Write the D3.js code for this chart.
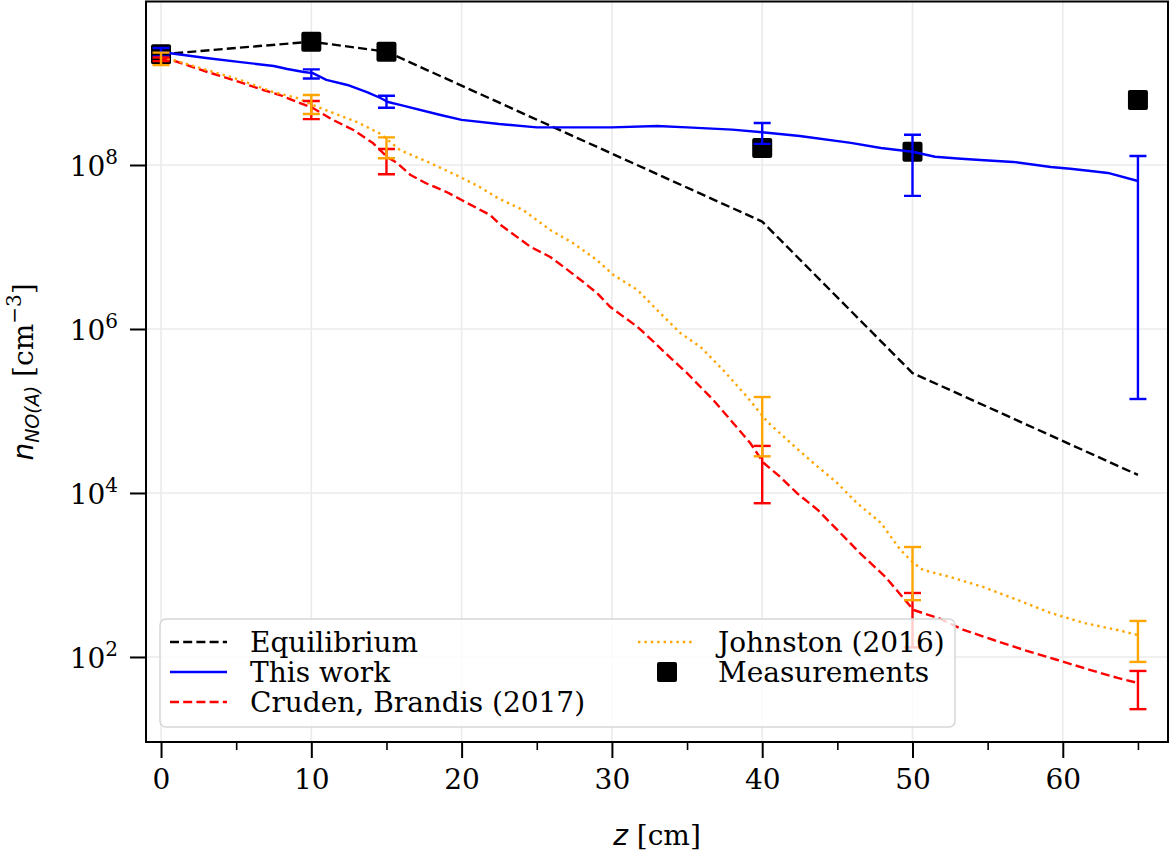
<!DOCTYPE html>
<html><head><meta charset="utf-8">
<script src="https://cdn.jsdelivr.net/npm/d3@7"></script>
<style>body{margin:0;background:#fff} svg{display:block} text{font-family:"DejaVu Serif",serif;fill:#000}</style>
</head><body><svg id="c" width="1169" height="856"></svg>
<script>
// ---------- data ----------
const measZ = [0, 10, 15, 40, 50, 65];
const measN = [2.24e9, 3.19e9, 2.41e9, 1.61e8, 1.45e8, 6.2e8];

const eqZ = [0, 10, 15, 40, 50, 65];
const eqN = [2.24e9, 3.19e9, 2.41e9, 2.04e7, 2.9e5, 1.66e4];

const thisZ = [0, 3, 5.3, 7.5, 8.4, 9.5, 10.1, 11, 12.4, 13.7, 14.6, 15.1, 15.9, 18.6, 20, 22.5, 25, 30, 33, 35, 38, 40, 42.5, 45.9, 47.9, 50, 51.5, 53, 54.5, 56.7, 59.2, 60.5, 62, 63, 65];
const thisN = [2.39e9, 2.02e9, 1.80e9, 1.61e9, 1.48e9, 1.36e9, 1.32e9, 1.09e9, 9.46e8, 7.76e8, 6.56e8, 5.86e8, 5.40e8, 4.07e8, 3.55e8, 3.16e8, 2.88e8, 2.88e8, 2.99e8, 2.88e8, 2.7e8, 2.51e8, 2.26e8, 1.86e8, 1.61e8, 1.45e8, 1.26e8, 1.2e8, 1.15e8, 1.09e8, 9.46e7, 9.0e7, 8.4e7, 8.0e7, 6.38e7];

const crudenZ = [0, 0.7, 3.1, 4.8, 6.8, 7.9, 9.25, 10.1, 11.45, 12.8, 14.1, 15.05, 15.7, 16.6, 17.6, 19, 20, 21, 21.9, 22.6, 23.7, 24.6, 25.9, 26.8, 28.1, 29, 29.9, 30.8, 31.7, 32.8, 33.9, 35, 35.9, 36.75, 37.9, 39.2, 40.1, 41.2, 42.3, 43.7, 45, 46.5, 48.2, 50.07, 51.7, 53.4, 55.4, 57.4, 59.65, 61.85, 63.65, 65];
const crudenN = [2.02e9, 1.91e9, 1.36e9, 1.09e9, 8.22e8, 7.14e8, 5.70e8, 4.95e8, 3.54e8, 2.67e8, 1.85e8, 1.25e8, 1.06e8, 7.55e7, 6.03e7, 4.68e7, 3.74e7, 2.99e7, 2.45e7, 1.85e7, 1.32e7, 1.0e7, 7.55e6, 5.70e6, 3.74e6, 2.75e6, 1.85e6, 1.40e6, 1.06e6, 6.93e5, 4.43e5, 2.90e5, 1.96e5, 1.36e5, 7.76e4, 4.07e4, 2.32e4, 1.57e4, 1.0e4, 6.21e3, 3.54e3, 1.85e3, 946, 374, 299, 214, 161, 122, 91.8, 69.2, 55.5, 48.2];

const johnZ = [0, 0.8, 3.06, 5.26, 7.46, 9.05, 10.1, 11.45, 13.05, 14.6, 15.9, 17.9, 19.9, 21.2, 22.4, 24.1, 25.9, 27.4, 29, 30.1, 31.7, 33.2, 34.55, 35.9, 37.4, 39, 40.35, 41.9, 43.4, 45, 46.3, 47.9, 49.2, 50.07, 50.7, 52.5, 54.7, 57, 59.2, 61.4, 63.65, 65];
const johnN = [2.07e9, 1.91e9, 1.44e9, 1.09e9, 7.76e8, 6.56e8, 5.40e8, 4.31e8, 3.34e8, 2.4e8, 1.52e8, 1.06e8, 7.14e7, 5.40e7, 3.96e7, 2.82e7, 1.61e7, 1.12e7, 6.93e6, 4.56e6, 2.99e6, 1.57e6, 8.93e5, 6.03e5, 3.16e5, 1.48e5, 7.35e4, 4.07e4, 2.32e4, 1.32e4, 7.55e3, 4.31e3, 2.02e3, 1.40e3, 1.15e3, 946, 714, 495, 344, 260, 213, 185];

const errZ = [0, 10, 15, 40, 50, 65];
const thisErrN = [2.39e9, 1.3e9, 6.0e8, 2.53e8, 1.38e8, 6.45e7];
const thisErrE = [0.28e9, 0.165e9, 1.0e8, 0.72e8, 0.96e8, 6.436e7];
const crudenErrN = [1.95e9, 4.83e8, 1.17e8, 2.25e4, 367, 45.3];
const crudenErrE = [0.1e9, 1.2e8, 0.4e8, 1.5e4, 236, 22.2];
const johnErrN = [2.0e9, 5.67e8, 1.69e8, 8.8e4, 1343, 181];
const johnErrE = [0.35e9, 1.48e8, 0.48e8, 6.0e4, 850, 94];

const xTicks = [0, 10, 20, 30, 40, 50, 60];
const xMinorTicks = [5, 15, 25, 35, 45, 55, 65];
const yTickExps = [2, 4, 6, 8];

// ---------- chart ----------
const FS = 28;
const svg = d3.select('#c');
const L = 146, R = 1168, T = 1.5, B = 742;
const x = d3.scaleLinear().domain([-1, 67]).range([L, R]);
const y = d3.scaleLog().domain([Math.pow(10, 0.963), Math.pow(10, 9.994)]).range([B, T]);

svg.append('defs').append('clipPath').attr('id', 'clip')
  .append('rect').attr('x', L).attr('y', T).attr('width', R - L).attr('height', B - T);

// grid
const grid = svg.append('g');
grid.selectAll('.gx').data(xTicks).join('line')
  .attr('x1', d => x(d)).attr('x2', d => x(d)).attr('y1', T).attr('y2', B)
  .attr('stroke', '#ebebeb').attr('stroke-width', 1.6);
grid.selectAll('.gy').data(yTickExps).join('line')
  .attr('y1', d => y(Math.pow(10, d))).attr('y2', d => y(Math.pow(10, d))).attr('x1', L).attr('x2', R)
  .attr('stroke', '#ebebeb').attr('stroke-width', 1.6);

const plot = svg.append('g').attr('clip-path', 'url(#clip)');

// measurements (squares)
const sq = 20;
plot.selectAll('.meas').data(measZ.map((z, i) => [z, measN[i]])).join('rect')
  .attr('x', d => x(d[0]) - sq / 2).attr('y', d => y(d[1]) - sq / 2)
  .attr('width', sq).attr('height', sq).attr('rx', 2).attr('fill', '#000');

const line = d3.line().x(d => x(d[0])).y(d => y(d[1]));
const LW = 2.4;
function drawLine(zs, ns, color, dash) {
  plot.append('path').datum(zs.map((z, i) => [z, ns[i]]))
    .attr('d', line).attr('fill', 'none').attr('stroke', color).attr('stroke-width', LW)
    .attr('stroke-dasharray', dash).attr('stroke-linejoin', 'round');
}
drawLine(eqZ, eqN, '#000', '9,4.2');
drawLine(thisZ, thisN, '#0000ff', null);
drawLine(crudenZ, crudenN, '#ff0000', '9,4.2');
drawLine(johnZ, johnN, '#ffa500', '2.4,4');

function drawErr(ns, es, color) {
  const g = plot.append('g').attr('stroke', color).attr('stroke-width', LW).attr('fill', 'none');
  errZ.forEach((z, i) => {
    const hi = y(ns[i] + es[i]), lo = y(ns[i] - es[i]), cx = x(z);
    g.append('line').attr('x1', cx).attr('x2', cx).attr('y1', hi).attr('y2', lo);
    g.append('line').attr('x1', cx - 8.5).attr('x2', cx + 8.5).attr('y1', hi).attr('y2', hi);
    g.append('line').attr('x1', cx - 8.5).attr('x2', cx + 8.5).attr('y1', lo).attr('y2', lo);
  });
}
drawErr(thisErrN, thisErrE, '#0000ff');
drawErr(crudenErrN, crudenErrE, '#ff0000');
drawErr(johnErrN, johnErrE, '#ffa500');

// axes
const gx = svg.append('g').attr('transform', `translate(0,${B})`)
  .call(d3.axisBottom(x).tickValues(xTicks).tickSize(16).tickPadding(11).tickFormat(d3.format('d')));
gx.select('.domain').remove();
gx.selectAll('line').attr('stroke', '#000').attr('stroke-width', 2);
gx.selectAll('text').attr('font-size', FS).attr('font-family', 'DejaVu Serif').attr('fill', '#000');
const gxm = svg.append('g').attr('transform', `translate(0,${B})`)
  .call(d3.axisBottom(x).tickValues(xMinorTicks).tickSize(8).tickFormat(() => ''));
gxm.select('.domain').remove();
gxm.selectAll('line').attr('stroke', '#000').attr('stroke-width', 1.6);

const gy = svg.append('g').attr('transform', `translate(${L},0)`)
  .call(d3.axisLeft(y).tickValues(yTickExps.map(e => Math.pow(10, e))).tickSize(16).tickPadding(12).tickFormat(() => ''));
gy.select('.domain').remove();
gy.selectAll('line').attr('stroke', '#000').attr('stroke-width', 2);
gy.selectAll('.tick text').each(function (d) {
  const t = d3.select(this).attr('font-size', FS).attr('dy', null).attr('y', 11).attr('fill', '#000');
  t.append('tspan').text('10');
  t.append('tspan').attr('font-size', 20).attr('dy', -12).text(String(Math.round(Math.log10(d))));
});

// frame
svg.append('rect').attr('x', L).attr('y', T).attr('width', R - L).attr('height', B - T)
  .attr('fill', 'none').attr('stroke', '#000').attr('stroke-width', 2);

// legend
const lg = svg.append('g');
lg.append('rect').attr('x', 160).attr('y', 619).attr('width', 795).attr('height', 108).attr('rx', 6)
  .attr('fill', '#fff').attr('fill-opacity', 0.8).attr('stroke', '#d6d6d6').attr('stroke-width', 1.5);
const legItems = [
  {label: 'Equilibrium', color: '#000', dash: '9,4.2', hx: 170, ty: 652},
  {label: 'This work', color: '#0000ff', dash: null, hx: 170, ty: 682},
  {label: 'Cruden, Brandis (2017)', color: '#ff0000', dash: '9,4.2', hx: 170, ty: 712},
  {label: 'Johnston (2016)', color: '#ffa500', dash: '2.4,4', hx: 638, ty: 652},
  {label: 'Measurements', color: null, dash: null, hx: 638, ty: 682, marker: true}
];
legItems.forEach(it => {
  const cy = it.ty - 10;
  if (it.marker) {
    lg.append('rect').attr('x', it.hx + 29 - sq / 2).attr('y', cy - sq / 2).attr('width', sq).attr('height', sq)
      .attr('rx', 2).attr('fill', '#000');
  } else {
    lg.append('line').attr('x1', it.hx).attr('x2', it.hx + 57).attr('y1', cy).attr('y2', cy)
      .attr('stroke', it.color).attr('stroke-width', LW).attr('stroke-dasharray', it.dash);
  }
  lg.append('text').attr('x', it.hx + 80).attr('y', it.ty).attr('font-size', FS).text(it.label);
});

// axis labels
const xl = svg.append('text').attr('x', 657).attr('y', 845).attr('text-anchor', 'middle').attr('font-size', FS);
xl.append('tspan').attr('font-family', 'DejaVu Sans').attr('font-style', 'italic').text('z');
xl.append('tspan').text(' [cm]');

const yl = svg.append('text').attr('transform', 'translate(33,372) rotate(-90)').attr('text-anchor', 'middle').attr('font-size', FS);
yl.append('tspan').attr('font-family', 'DejaVu Sans').attr('font-style', 'italic').text('n');
yl.append('tspan').attr('font-family', 'DejaVu Sans').attr('font-style', 'italic').attr('font-size', 19).attr('dy', 6).text('NO(A)');
yl.append('tspan').attr('dy', -6).text(' [cm');
yl.append('tspan').attr('font-size', 20).attr('dy', -12).text('\u22123');
yl.append('tspan').attr('dy', 12).text(']');
</script></body></html>
